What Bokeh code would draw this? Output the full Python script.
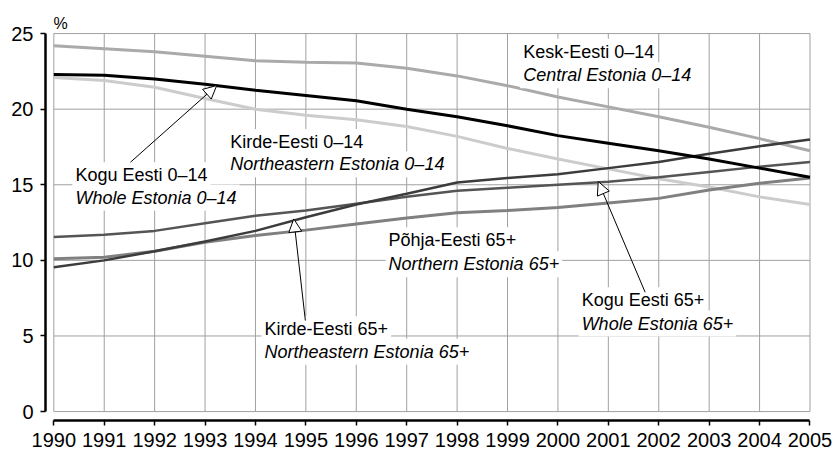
from bokeh.plotting import figure
from bokeh.models import Range1d, FixedTicker, Label, Arrow, NormalHead
from bokeh.embed import file_html
from bokeh.resources import INLINE

# ---- data -------------------------------------------------------------
years = list(range(1990, 2006))
y_ticks = [0, 5, 10, 15, 20, 25]

kesk_0_14 = [24.2, 24.0, 23.8, 23.5, 23.2, 23.1, 23.05, 22.7, 22.2, 21.55,
             20.8, 20.15, 19.5, 18.8, 18.05, 17.25]
kogu_0_14 = [22.3, 22.25, 22.0, 21.65, 21.25, 20.9, 20.55, 20.0, 19.5, 18.9,
             18.25, 17.75, 17.25, 16.7, 16.1, 15.5]
kirde_0_14 = [22.1, 21.9, 21.45, 20.7, 20.0, 19.6, 19.3, 18.85, 18.2, 17.4,
              16.7, 16.05, 15.4, 14.85, 14.2, 13.7]
kogu_65 = [11.55, 11.7, 11.95, 12.45, 12.95, 13.3, 13.75, 14.2, 14.6, 14.8,
           15.0, 15.2, 15.5, 15.85, 16.2, 16.5]
kirde_65 = [9.55, 10.0, 10.6, 11.25, 11.95, 12.85, 13.7, 14.4, 15.15, 15.45,
            15.7, 16.1, 16.5, 17.05, 17.55, 18.0]
pohja_65 = [10.1, 10.2, 10.6, 11.2, 11.65, 12.0, 12.4, 12.8, 13.15, 13.3,
            13.5, 13.8, 14.1, 14.65, 15.1, 15.45]

series = [
    (kesk_0_14, "#aaaaaa", 3),
    (kirde_0_14, "#cccccc", 3),
    (pohja_65, "#808080", 3),
    (kogu_65, "#555555", 2.5),
    (kirde_65, "#3c3c3c", 2.5),
    (kogu_0_14, "#000000", 3),
]

# annotation texts: (x, y line1, y line2, text1, text2)
labels = [
    (1999.33, 23.33, 21.78, "Kesk-Eesti 0–14", "Central Estonia 0–14"),
    (1993.52, 17.37, 15.89, "Kirde-Eesti 0–14", "Northeastern Estonia 0–14"),
    (1990.45, 15.17, 13.69, "Kogu Eesti 0–14", "Whole Estonia 0–14"),
    (1996.66, 10.87, 9.28, "Põhja-Eesti 65+", "Northern Estonia 65+"),
    (1994.20, 4.98, 3.49, "Kirde-Eesti 65+", "Northeastern Estonia 65+"),
    (2000.49, 6.90, 5.36, "Kogu Eesti 65+", "Whole Estonia 65+"),
]

# arrows: (x_start, y_start, x_end, y_end)
arrows = [
    (1991.52, 16.49, 1993.23, 21.56),
    (1994.99, 6.02, 1994.76, 12.74),
    (2001.73, 7.89, 2000.80, 15.21),
]

FONT = "Liberation Sans"

p = figure(width=837, height=455, output_backend="svg", toolbar_location=None,
           x_range=Range1d(1989.835, 2005.03), y_range=Range1d(-0.59, 25.07),
           min_border_left=45, min_border_right=26, min_border_top=32,
           min_border_bottom=35)
p.outline_line_color = None
p.background_fill_color = "white"
p.border_fill_color = "white"
p.xgrid.visible = False
p.ygrid.visible = False

# title used as the "%" unit label
p.title.text = "%"
p.title.align = "left"
p.title.offset = 8
p.title.text_font = FONT
p.title.text_font_size = "16px"
p.title.text_font_style = "normal"
p.title.text_color = "black"
p.title.standoff = 2

# grid
p.segment(x0=[years[0]] * len(y_ticks), y0=y_ticks,
          x1=[years[-1]] * len(y_ticks), y1=y_ticks,
          line_color="#a0a0a0", line_width=1)
p.segment(x0=years, y0=[y_ticks[0]] * len(years),
          x1=years, y1=[y_ticks[-1]] * len(years),
          line_color="#a0a0a0", line_width=1)

for ys, col, lw in series:
    p.line(years, ys, line_color=col, line_width=lw)

# axes
for ax in (p.xaxis, p.yaxis):
    ax.axis_line_color = "black"
    ax.axis_line_width = 2.5
    ax.major_tick_line_color = "black"
    ax.major_tick_line_width = 1.5
    ax.major_tick_in = 0
    ax.major_tick_out = 5
    ax.minor_tick_in = 0
    ax.minor_tick_out = 0
    ax.major_label_text_font = FONT
    ax.major_label_text_font_size = "20px"
    ax.major_label_text_color = "black"
p.xaxis.ticker = FixedTicker(ticks=years)
p.yaxis.ticker = FixedTicker(ticks=y_ticks)
p.xaxis.bounds = (years[0], years[-1])
p.yaxis.bounds = (y_ticks[0], y_ticks[-1])
p.xaxis.major_label_standoff = 7
p.yaxis.major_label_standoff = 7

# text blocks
for x, y1, y2, t1, t2 in labels:
    for yy, tt, st in ((y2, t2, "italic"), (y1, t1, "normal")):
        p.add_layout(Label(x=x, y=yy, text=tt, text_font=FONT,
                           text_font_size="18px", text_font_style=st,
                           text_color="black", text_baseline="alphabetic",
                           x_offset=-4, y_offset=7,
                           background_fill_color="white", padding=3))

for xs, ys, xe, ye in arrows:
    p.add_layout(Arrow(end=NormalHead(size=13, fill_color="white",
                                      line_color="black", line_width=1),
                       x_start=xs, y_start=ys, x_end=xe, y_end=ye,
                       line_color="black", line_width=1))

open("out.html", "w").write(file_html(p, INLINE))
